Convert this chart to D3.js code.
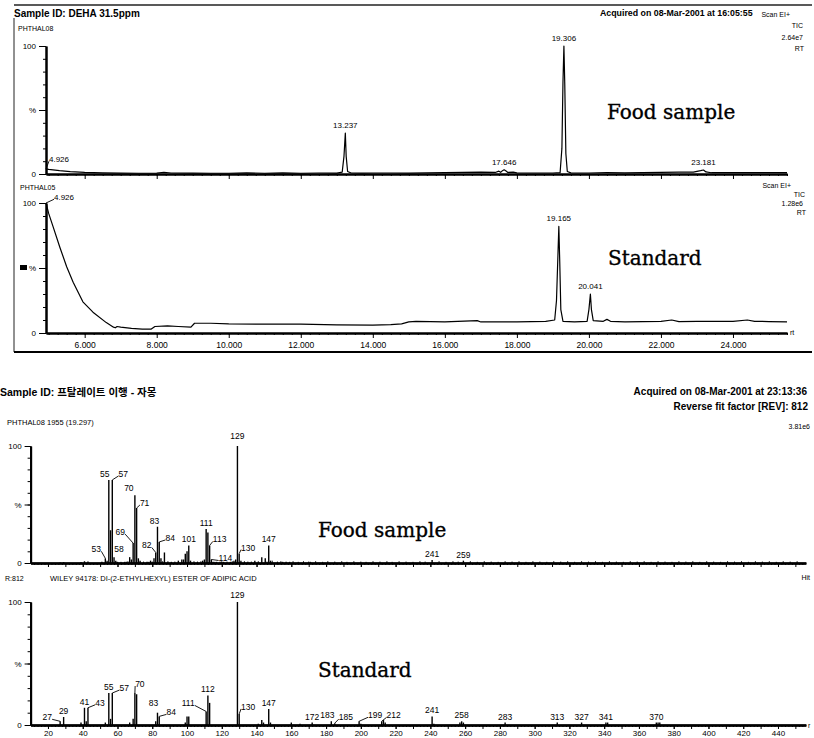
<!DOCTYPE html>
<html>
<head>
<meta charset="utf-8">
<script src="https://cdn.jsdelivr.net/npm/d3@7"></script>
<style>
  body { margin: 0; background: #fff; }
  svg { display: block; }
  text { font-family: "Liberation Sans", Arial, "Noto Sans CJK KR", sans-serif; fill: #000; }
  .serif { font-family: "DejaVu Serif", serif; stroke: #000; stroke-width: 0.35; }
</style>
</head>
<body>
<svg id="chart" width="814" height="738"></svg>
<script>
// ---- chromatograms: [retention time (min), % of full scale]
const foodTIC = [
  [4.926, 4], [5.0, 3.6], [5.3, 2.6], [5.6, 1.9], [6.0, 1.3], [6.5, 0.9], [7.0, 0.7], [7.5, 0.6],
  [8.0, 0.7], [8.2, 1.3], [8.4, 0.8], [9.0, 0.7], [9.5, 0.6], [10.0, 0.6], [10.5, 0.9], [11.0, 0.6],
  [11.5, 0.9], [12.0, 0.6], [12.5, 0.8], [13.0, 0.7], [13.15, 1.5], [13.2, 14], [13.237, 32],
  [13.26, 14], [13.3, 2], [13.4, 0.8], [13.7, 0.7], [14.0, 0.8], [14.5, 0.8], [15.0, 0.7], [15.5, 0.9],
  [16.0, 1.0], [16.5, 1.3], [17.0, 1.4], [17.4, 1.2], [17.5, 2.2], [17.55, 1.3], [17.6, 2.6],
  [17.646, 3.3], [17.7, 2.3], [17.75, 1.2], [17.9, 1.5], [18.0, 0.9], [18.5, 0.8], [19.0, 0.8],
  [19.2, 1.0], [19.25, 20], [19.28, 72], [19.306, 100], [19.33, 70], [19.36, 16], [19.4, 2],
  [19.5, 0.9], [20.0, 0.8], [20.5, 1.0], [21.0, 0.9], [21.5, 1.0], [22.0, 1.3], [22.5, 1.4],
  [22.9, 1.5], [23.1, 2.6], [23.181, 3.1], [23.25, 1.6], [23.4, 1.0], [24.0, 1.1], [24.5, 1.0],
  [25.0, 1.1], [25.5, 1.0]
];
const standardTIC = [
  [4.926, 100], [5.0, 92], [5.12, 82], [5.31, 66], [5.5, 51], [5.68, 39], [5.95, 24], [6.23, 16],
  [6.6, 8], [6.8, 4.5], [6.85, 4], [6.9, 5], [7.0, 4.5], [7.3, 3.5], [7.6, 3], [7.85, 3], [7.95, 5],
  [8.3, 5.5], [8.6, 5], [8.95, 4.5], [9.05, 7.5], [9.5, 7.5], [10.0, 7], [11.0, 6.8], [12.0, 6.8],
  [13.0, 6.2], [14.0, 6], [14.5, 6.5], [14.8, 7], [15.0, 8.5], [15.2, 9], [16.0, 8.5], [16.9, 9.5],
  [17.0, 8.5], [18.0, 8.5], [18.8, 9], [19.05, 10], [19.1, 25], [19.14, 60], [19.165, 82],
  [19.19, 55], [19.22, 18], [19.28, 9], [19.6, 8.5], [19.95, 9], [20.0, 18], [20.041, 30],
  [20.07, 18], [20.12, 9.5], [20.4, 9], [20.5, 10.5], [20.6, 9], [21.0, 8.5], [22.0, 9],
  [22.3, 10], [22.5, 8.8], [23.0, 9], [24.0, 9], [24.4, 10], [24.6, 9], [25.0, 8.8], [25.5, 8.5]
];
const foodPeaks = [4.926, 13.237, 17.646, 19.306, 23.181];
const standardPeaks = [4.926, 19.165, 20.041];
const rtTicks = [6, 8, 10, 12, 14, 16, 18, 20, 22, 24];

// ---- mass spectra: [m/z, % relative intensity]
const foodSpectrum = [
  [27, 0.5], [29, 0.8], [39, 0.8], [41, 1.5], [43, 1.2], [51, 1], [53, 4], [54, 2], [55, 71],
  [56, 28], [57, 71], [58, 5], [59, 2], [60, 1], [65, 1], [67, 5], [68, 3], [69, 17], [70, 58],
  [71, 47], [72, 4], [73, 2], [77, 1], [79, 2], [81, 4], [82, 9], [83, 31], [84, 18], [85, 4],
  [87, 9], [91, 1], [95, 2], [97, 3], [98, 3], [99, 8], [100, 10], [101, 15], [102, 2], [109, 2],
  [110, 3], [111, 29], [112, 26], [113, 15], [114, 3], [115, 1], [117, 1], [121, 1], [125, 1],
  [127, 2], [128, 3], [129, 100], [130, 8], [131, 2], [139, 2], [143, 5], [145, 4], [147, 15],
  [148, 2], [155, 1], [157, 1], [159, 1], [171, 1], [241, 2.5], [259, 2]
];
const foodNoise = [
  [62, 1], [64, 1], [66, 1.5], [75, 1.2], [78, 1], [80, 1.2], [86, 1.5], [89, 1.5], [93, 1.2],
  [104, 1.5], [106, 1.2], [108, 1.5], [116, 1], [119, 1.2], [120, 1.5], [123, 1.2], [126, 1.5],
  [133, 1.5], [135, 1.2], [137, 1.2], [141, 1.5], [146, 1.2], [149, 2], [152, 1.2], [154, 1.5],
  [161, 1.5], [164, 1], [167, 1.5], [170, 1.2], [174, 1.5], [178, 1], [181, 1.5], [185, 1.2],
  [189, 1.5], [192, 1], [196, 1.5], [200, 1.2], [203, 1], [207, 1.5], [211, 1.2], [215, 1.5],
  [218, 1], [222, 1.5], [226, 1.2], [230, 1], [234, 1.5], [237, 1.2], [245, 1.5], [249, 1],
  [253, 1.5], [256, 1.2], [263, 1.5], [267, 1], [271, 1.5], [275, 1.2], [279, 1], [283, 1.5],
  [287, 1.2], [291, 1.5], [295, 1], [299, 1.5], [303, 1.2], [307, 1], [311, 1.5], [315, 1.2],
  [319, 1.5], [323, 1], [327, 1.5], [331, 1.2], [335, 1.5], [339, 1], [343, 1.5], [347, 1.2],
  [351, 1], [355, 1.5], [359, 1.2], [363, 1.5], [367, 1], [371, 1.5], [375, 1.2], [379, 1],
  [383, 1.5], [387, 1.2], [391, 1.5], [395, 1], [399, 1.5], [403, 1.2], [407, 1], [411, 1.5],
  [415, 1.2], [419, 1.5], [423, 1], [427, 1.5], [431, 1.2], [435, 1.5], [439, 1], [443, 1.5],
  [447, 1.2], [451, 1.5]
];
const foodLabels = [53, 55, 57, 58, 69, 70, 71, 82, 83, 84, 101, 111, 113, 114, 129, 130, 147, 241, 259];

const standardSpectrum = [
  [27, 3], [29, 6.5], [39, 2], [41, 14], [42, 3], [43, 14], [53, 2], [55, 26], [56, 5], [57, 26],
  [67, 2], [69, 5], [70, 26], [71, 25], [82, 3], [83, 10], [84, 7], [99, 2], [100, 7], [101, 7],
  [111, 11], [112, 24], [113, 18], [129, 100], [130, 9], [141, 1], [143, 4], [144, 2], [147, 13],
  [148, 2], [160, 2], [165, 1], [172, 2], [183, 3], [185, 1.5], [199, 3], [200, 1], [212, 3],
  [213, 4], [214, 2], [241, 7], [242, 1], [257, 2], [258, 3], [259, 2], [283, 2], [313, 2],
  [327, 2], [341, 2], [342, 2], [370, 2], [371, 2], [372, 2]
];
const standardLabels = [27, 29, 41, 43, 55, 57, 70, 83, 84, 111, 112, 129, 130, 147, 172, 183,
  185, 199, 212, 241, 258, 283, 313, 327, 341, 370];
const mzTicks = [20, 40, 60, 80, 100, 120, 140, 160, 180, 200, 220, 240, 260, 280, 300, 320, 340,
  360, 380, 400, 420, 440];

// ---- layout (label nudges: [dx, dy, leader])
const chromNudgeFood = { 4.926: [13, -7, true] };
const chromNudgeStd = { 4.926: [18, -3, true] };
const foodNudge = {
  53: [-9, -6, true], 55: [-4, -3], 57: [11, -3, true], 58: [5, -5], 69: [-13, -8, true],
  70: [-6, -4], 71: [8, -2, true], 82: [-9, -4, true], 83: [-3, -3], 84: [11, -1, true],
  113: [10, -3, true], 114: [14, 2, true], 129: [0, -7], 130: [9, -3, true]
};
const stdNudge = {
  27: [-13, -1, true], 43: [12, -2, true], 57: [12, -2, true], 70: [5, -6, true], 83: [-4, -7],
  84: [12, -1, true], 111: [-18, -5, true], 129: [0, -4], 130: [9, -4, true], 183: [-4, -3],
  185: [11, -3, true], 199: [16, -3, true], 212: [12, -3, true]
};

const svg = d3.select("#chart");

// scales
const xRT = d3.scaleLinear().domain([4.926, 25.5]).range([46, 787]);
const yFoodTIC = d3.scaleLinear().domain([0, 100]).range([174, 46]);
const yStdTIC = d3.scaleLinear().domain([0, 100]).range([333, 203]);
const xMZ = d3.scaleLinear().domain([10, 456]).range([30.6, 805.8]);
const yFoodMS = d3.scaleLinear().domain([0, 100]).range([563, 446]);
const yStdMS = d3.scaleLinear().domain([0, 100]).range([725, 602]);

function txt(x, y, s, size, opts = {}) {
  return svg.append("text")
    .attr("x", x).attr("y", y)
    .attr("font-size", size)
    .attr("font-weight", opts.bold ? "bold" : null)
    .attr("text-anchor", opts.anchor || "start")
    .attr("class", opts.cls || null)
    .text(s);
}

function styleAxis(g, size) {
  g.attr("font-family", null).attr("font-size", size);
  g.select(".domain").attr("stroke-width", 2);
  g.selectAll(".tick line").attr("stroke-width", 1);
}

// scanned page frame
svg.append("line").attr("x1", 14).attr("x2", 812).attr("y1", 5).attr("y2", 5)
  .attr("stroke", "#222").attr("stroke-width", 1.3);
svg.append("line").attr("x1", 14).attr("x2", 14).attr("y1", 18).attr("y2", 352)
  .attr("stroke", "#222").attr("stroke-width", 1);
svg.append("line").attr("x1", 14).attr("x2", 812).attr("y1", 352).attr("y2", 352)
  .attr("stroke", "#000").attr("stroke-width", 2);

// ---------- chromatograms ----------
function drawChrom(trace, peaks, y, nudge, showLabels) {
  const g = svg.append("g");

  // minor + major x ticks
  g.append("g").attr("transform", `translate(0,${y(0)})`)
    .call(d3.axisBottom(xRT).tickValues(d3.range(5, 25.6, 0.25)).tickSize(2).tickSizeOuter(0).tickFormat(""))
    .call(styleAxis, 8.5);
  const ax = g.append("g").attr("transform", `translate(0,${y(0)})`)
    .call(d3.axisBottom(xRT).tickValues(rtTicks).tickSize(5).tickSizeOuter(0)
      .tickFormat(showLabels ? d3.format(".3f") : ""))
    .call(styleAxis, 8.5);
  ax.selectAll("text").attr("dy", "0.8em");

  // y axis
  g.append("g").attr("transform", `translate(${xRT(4.926)},0)`)
    .call(d3.axisLeft(y).tickValues(d3.range(0, 101, 10)).tickSize(3).tickSizeOuter(0).tickFormat(""))
    .call(styleAxis, 8);
  g.append("g").attr("transform", `translate(${xRT(4.926)},0)`)
    .call(d3.axisLeft(y).tickValues([0, 50, 100]).tickSize(7).tickSizeOuter(0)
      .tickFormat((d) => (d === 50 ? "%" : d)))
    .call(styleAxis, 8);

  // trace
  g.append("path")
    .datum(trace)
    .attr("d", d3.line().x((d) => xRT(d[0])).y((d) => y(d[1])))
    .attr("fill", "none")
    .attr("stroke", "#000")
    .attr("stroke-width", 1.2)
    .attr("stroke-linejoin", "round");

  // peak labels
  peaks.forEach((p) => {
    const pt = trace.find((d) => d[0] === p);
    const [dx, dy, leader] = nudge[p] || [0, -5, false];
    const px = xRT(p), py = y(pt[1]);
    const t = g.append("text")
      .attr("x", px + dx).attr("y", py + dy)
      .attr("font-size", 8).attr("text-anchor", "middle")
      .text(p.toFixed(3));
    if (leader) {
      const b = t.node().getBBox();
      g.append("line").attr("x1", px).attr("y1", py)
        .attr("x2", dx > 0 ? b.x : b.x + b.width).attr("y2", b.y + b.height * 0.7)
        .attr("stroke", "#000").attr("stroke-width", 0.9);
    }
  });
}

drawChrom(foodTIC, foodPeaks, yFoodTIC, chromNudgeFood, false);
drawChrom(standardTIC, standardPeaks, yStdTIC, chromNudgeStd, true);

// chromatogram texts
txt(14, 17, "Sample ID: DEHA 31.5ppm", 10, { bold: true });
txt(600, 16, "Acquired on 08-Mar-2001 at 16:05:55", 8.8, { bold: true });
txt(18, 31, "PHTHAL08", 7);
txt(790, 17, "Scan EI+", 7, { anchor: "end" });
txt(803, 28, "TIC", 7, { anchor: "end" });
txt(803, 40, "2.64e7", 7, { anchor: "end" });
txt(804, 51, "RT", 7, { anchor: "end" });
txt(607, 119, "Food sample", 20, { cls: "serif" });

txt(20, 190, "PHTHAL05", 7);
svg.append("rect").attr("x", 20).attr("y", 265).attr("width", 7).attr("height", 5).attr("fill", "#000");
txt(791, 188, "Scan EI+", 7, { anchor: "end" });
txt(805, 197, "TIC", 7, { anchor: "end" });
txt(803, 206, "1.28e6", 7, { anchor: "end" });
txt(806, 215, "RT", 7, { anchor: "end" });
txt(790, 335, "rt", 7);
txt(608, 265, "Standard", 20, { cls: "serif" });

// ---------- mass spectra ----------
function drawSpectrum(bars, noise, labels, y, nudge, showLabels) {
  const g = svg.append("g");

  g.append("g").attr("transform", `translate(0,${y(0)})`)
    .call(d3.axisBottom(xMZ).tickValues(d3.range(12, 455, 2)).tickSize(2).tickSizeOuter(0).tickFormat(""))
    .call(styleAxis, 8);
  g.append("g").attr("transform", `translate(0,${y(0)})`)
    .call(d3.axisBottom(xMZ).tickValues(d3.range(20, 451, 10)).tickSize(4).tickSizeOuter(0).tickFormat(""))
    .call(styleAxis, 8);
  g.append("g").attr("transform", `translate(0,${y(0)})`)
    .call(d3.axisBottom(xMZ).tickValues(mzTicks).tickSize(4).tickPadding(1).tickSizeOuter(0)
      .tickFormat(showLabels ? (d) => d : ""))
    .call(styleAxis, 8);

  g.append("g").attr("transform", `translate(${xMZ(10)},0)`)
    .call(d3.axisLeft(y).tickValues(d3.range(0, 101, 10)).tickSize(3).tickSizeOuter(0).tickFormat(""))
    .call(styleAxis, 8);
  g.append("g").attr("transform", `translate(${xMZ(10)},0)`)
    .call(d3.axisLeft(y).tickValues([0, 50, 100]).tickSize(6).tickSizeOuter(0)
      .tickFormat((d) => (d === 50 ? "%" : d)))
    .call(styleAxis, 8);

  g.selectAll("line.noise")
    .data(noise)
    .join("line")
    .attr("class", "noise")
    .attr("x1", (d) => xMZ(d[0])).attr("x2", (d) => xMZ(d[0]))
    .attr("y1", y(0)).attr("y2", (d) => y(d[1]))
    .attr("stroke", "#000").attr("stroke-width", 1);

  g.selectAll("line.bar")
    .data(bars)
    .join("line")
    .attr("class", "bar")
    .attr("x1", (d) => xMZ(d[0])).attr("x2", (d) => xMZ(d[0]))
    .attr("y1", y(0)).attr("y2", (d) => y(d[1]))
    .attr("stroke", "#000").attr("stroke-width", 1.4);

  labels.forEach((m) => {
    const b0 = bars.find((d) => d[0] === m);
    const [dx, dy, leader] = nudge[m] || [0, -3, false];
    const px = xMZ(m), py = y(b0[1]);
    const t = g.append("text")
      .attr("x", px + dx).attr("y", py + dy)
      .attr("font-size", 8.5).attr("text-anchor", "middle")
      .text(m);
    if (leader) {
      const b = t.node().getBBox();
      g.append("line").attr("x1", px).attr("y1", py)
        .attr("x2", dx > 0 ? b.x : b.x + b.width).attr("y2", b.y + b.height * 0.7)
        .attr("stroke", "#000").attr("stroke-width", 0.9);
    }
  });
}

drawSpectrum(foodSpectrum, foodNoise, foodLabels, yFoodMS, foodNudge, false);
drawSpectrum(standardSpectrum, [], standardLabels, yStdMS, stdNudge, true);

// spectrum texts
txt(0, 396, "Sample ID: 프탈레이트 이행 - 자몽", 10.5, { bold: true });
txt(807, 395, "Acquired on 08-Mar-2001 at 23:13:36", 10, { bold: true, anchor: "end" });
txt(808, 410, "Reverse fit factor [REV]: 812", 10, { bold: true, anchor: "end" });
txt(7, 425, "PHTHAL08 1955 (19.297)", 7.5);
txt(810, 429, "3.81e6", 7, { anchor: "end" });
txt(318, 537, "Food sample", 20, { cls: "serif" });
txt(5, 581, "R:812", 7);
txt(50, 581, "WILEY  94178: DI-(2-ETHYLHEXYL) ESTER OF ADIPIC ACID", 7.5);
txt(810, 580, "Hit", 7, { anchor: "end" });
txt(318, 677, "Standard", 20, { cls: "serif" });
txt(808, 728, "r", 7);
</script>
</body>
</html>
